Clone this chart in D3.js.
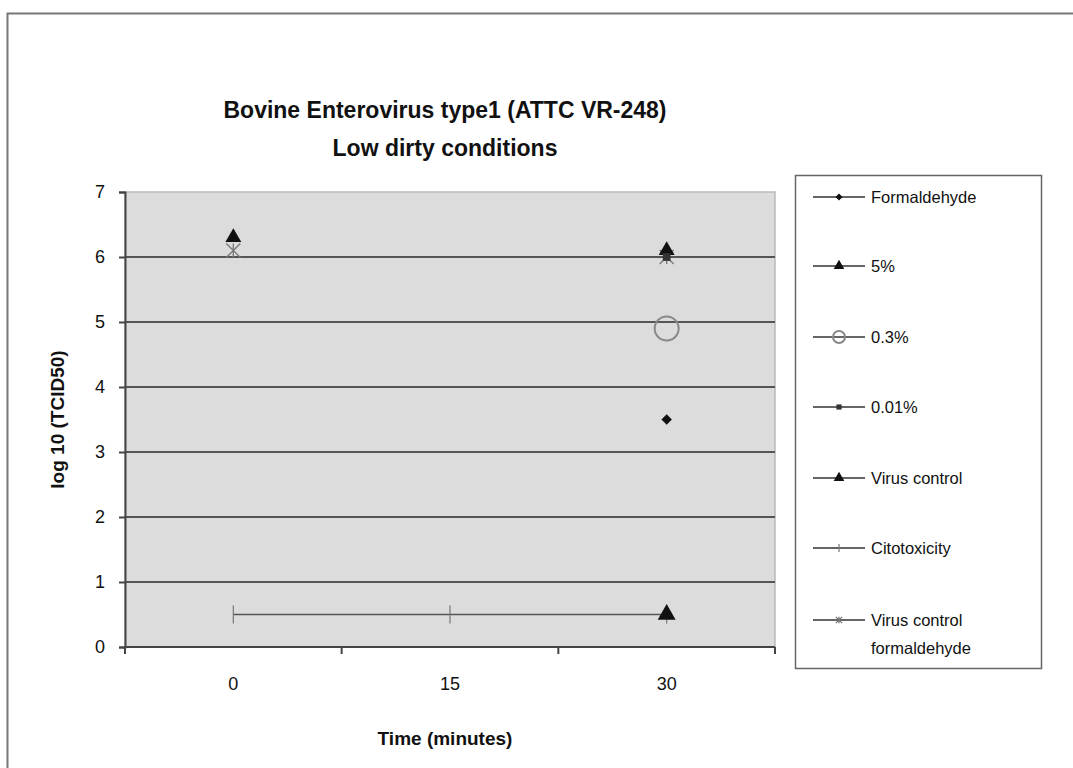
<!DOCTYPE html>
<html>
<head>
<meta charset="utf-8">
<script src="https://cdn.jsdelivr.net/npm/d3@7"></script>
<style>
  body { margin: 0; background: #fff; }
  text { font-family: "Liberation Sans", Arial, sans-serif; fill: #111; }
</style>
</head>
<body>
<div id="chart"></div>
<script>
// time points (category axis)
const times = ["0", "15", "30"];
const yTicks = [0, 1, 2, 3, 4, 5, 6, 7];

// series values, null = no reading
const formaldehyde = [null, null, 3.5];
const pct5 = [null, null, 0.5];
const pct03 = [null, null, 4.9];
const pct001 = [null, null, 6.0];
const virusControl = [6.3, null, 6.1];
const citotoxicity = [0.5, 0.5, 0.5];
const virusControlForm = [6.1, null, 6.0];

const seriesNames = ["Formaldehyde", "5%", "0.3%", "0.01%", "Virus control", "Citotoxicity", "Virus control formaldehyde"];
const seriesVals = [formaldehyde, pct5, pct03, pct001, virusControl, citotoxicity, virusControlForm];
const seriesMarks = ["diamond", "triangleBig", "circle", "square", "triangle", "plus", "star"];

const W = 1073, H = 768;
const margin = { left: 125, right: 298, top: 192, bottom: 121 };

const svg = d3.select("#chart").append("svg")
  .attr("width", W).attr("height", H);

// outer frame
svg.append("rect")
  .attr("x", 7.5).attr("y", 13.5)
  .attr("width", W + 10).attr("height", H + 10)
  .attr("fill", "none").attr("stroke", "#777").attr("stroke-width", 2);

const x = d3.scaleBand()
  .domain(times)
  .range([margin.left, W - margin.right]);

const y = d3.scaleLinear()
  .domain([0, 7])
  .range([H - margin.bottom, margin.top]);

// plot background
svg.append("rect")
  .attr("x", margin.left).attr("y", margin.top)
  .attr("width", W - margin.left - margin.right)
  .attr("height", H - margin.top - margin.bottom)
  .attr("fill", "#dcdcdc")
  .attr("stroke", "#bbb").attr("stroke-width", 1.5);

// horizontal grid lines
svg.append("g").selectAll("line")
  .data(yTicks.slice(1, -1))
  .enter().append("line")
  .attr("x1", margin.left).attr("x2", W - margin.right)
  .attr("y1", d => y(d)).attr("y2", d => y(d))
  .attr("stroke", "#555").attr("stroke-width", 2.2);

// y axis
const yAxis = svg.append("g")
  .attr("transform", `translate(${margin.left},0)`)
  .call(d3.axisLeft(y).tickValues(yTicks).tickFormat(d3.format("d")).tickSize(6).tickPadding(14));
yAxis.select(".domain").attr("stroke", "#444").attr("stroke-width", 2);
yAxis.selectAll(".tick line").attr("stroke", "#444").attr("stroke-width", 2);
yAxis.selectAll("text").style("font-size", "18px").attr("fill", "#111");

// x axis: ticks between categories
const xAxisG = svg.append("g")
  .attr("transform", `translate(0,${H - margin.bottom})`);
xAxisG.append("line")
  .attr("x1", margin.left).attr("x2", W - margin.right)
  .attr("stroke", "#444").attr("stroke-width", 2.2);
const edges = times.map(t => x(t)).concat([x(times[times.length - 1]) + x.bandwidth()]);
xAxisG.selectAll(".tk").data(edges).enter().append("line")
  .attr("x1", d => d).attr("x2", d => d)
  .attr("y1", 0).attr("y2", 7)
  .attr("stroke", "#444").attr("stroke-width", 2);
xAxisG.selectAll(".lbl").data(times).enter().append("text")
  .attr("x", d => x(d) + x.bandwidth() / 2)
  .attr("y", 43)
  .attr("text-anchor", "middle")
  .style("font-size", "18px")
  .text(d => d);

const cx = i => x(times[i]) + x.bandwidth() / 2;

// marker drawing
function drawMark(g, kind, px, py, scale) {
  const s = scale || 1;
  if (kind === "diamond") {
    g.append("path").attr("d", d3.symbol(d3.symbolSquare, 55 * s)()).attr("transform", `translate(${px},${py}) rotate(45)`).attr("fill", "#111");
  } else if (kind === "triangle") {
    g.append("path").attr("d", d3.symbol(d3.symbolTriangle, 110 * s)()).attr("transform", `translate(${px},${py})`).attr("fill", "#111");
  } else if (kind === "triangleBig") {
    g.append("path").attr("d", d3.symbol(d3.symbolTriangle, 140 * s)()).attr("transform", `translate(${px},${py})`).attr("fill", "#111");
  } else if (kind === "circle") {
    g.append("circle").attr("cx", px).attr("cy", py).attr("r", 12 * Math.sqrt(s))
      .attr("fill", "none").attr("stroke", "#888").attr("stroke-width", 2);
  } else if (kind === "square") {
    g.append("path").attr("d", d3.symbol(d3.symbolSquare, 60 * s)()).attr("transform", `translate(${px},${py})`).attr("fill", "#333");
  } else if (kind === "plus") {
    const r = 9 * s;
    g.append("line").attr("x1", px).attr("x2", px).attr("y1", py - r).attr("y2", py + r).attr("stroke", "#777").attr("stroke-width", 1.2);
  } else if (kind === "star") {
    const r = 7 * s;
    g.append("path").attr("d", `M${px - r},${py + r}L${px + r},${py - r}M${px - r},${py - r}L${px + r},${py + r}M${px},${py - r}V${py + r}`)
      .attr("stroke", "#777").attr("stroke-width", 1.3).attr("fill", "none");
  }
}

// series
const plot = svg.append("g");
const line = d3.line()
  .defined(d => d.v !== null)
  .x(d => cx(d.i))
  .y(d => y(d.v));

seriesVals.forEach((vals, k) => {
  const pts = vals.map((v, i) => ({ v, i }));
  plot.append("path")
    .attr("d", line(pts))
    .attr("fill", "none")
    .attr("stroke", "#555")
    .attr("stroke-width", 1.6);
});
// draw markers in reverse order so the legend-first series sit on top
for (let k = seriesVals.length - 1; k >= 0; k--) {
  seriesVals[k].forEach((v, i) => {
    if (v === null) return;
    drawMark(plot, seriesMarks[k], cx(i), y(v), 1);
  });
}

// legend
const lg = svg.append("g");
lg.append("rect")
  .attr("x", 795.5).attr("y", 175.5)
  .attr("width", 246).attr("height", 493)
  .attr("fill", "#fff").attr("stroke", "#666").attr("stroke-width", 1.5);
const legY = [197, 266, 337, 407, 478, 548, 620];
seriesNames.forEach((name, k) => {
  const ly = legY[k];
  lg.append("line")
    .attr("x1", 813).attr("x2", 865)
    .attr("y1", ly).attr("y2", ly)
    .attr("stroke", "#333").attr("stroke-width", 1.6);
  drawMark(lg, seriesMarks[k] === "triangleBig" ? "triangle" : seriesMarks[k], 839, ly, seriesMarks[k] === "circle" ? 0.25 : 0.45);
  const t = lg.append("text")
    .attr("x", 871).attr("y", ly + 6)
    .style("font-size", "16.5px");
  if (name === "Virus control formaldehyde") {
    t.append("tspan").attr("x", 871).text("Virus control");
    t.append("tspan").attr("x", 871).attr("dy", 28).text("formaldehyde");
  } else {
    t.text(name);
  }
});

// titles
const plotMid = (margin.left + W - margin.right) / 2 - 5;
svg.append("text")
  .attr("x", plotMid).attr("y", 118)
  .attr("text-anchor", "middle")
  .style("font-size", "23px").style("font-weight", "bold")
  .text("Bovine Enterovirus type1 (ATTC  VR-248)");
svg.append("text")
  .attr("x", plotMid).attr("y", 156)
  .attr("text-anchor", "middle")
  .style("font-size", "23px").style("font-weight", "bold")
  .text("Low dirty conditions");

svg.append("text")
  .attr("x", plotMid).attr("y", 745)
  .attr("text-anchor", "middle")
  .style("font-size", "19px").style("font-weight", "bold")
  .text("Time (minutes)");

svg.append("text")
  .attr("transform", `translate(64,${(margin.top + H - margin.bottom) / 2}) rotate(-90)`)
  .attr("text-anchor", "middle")
  .style("font-size", "19px").style("font-weight", "bold")
  .text("log 10 (TCID50)");
</script>
</body>
</html>
